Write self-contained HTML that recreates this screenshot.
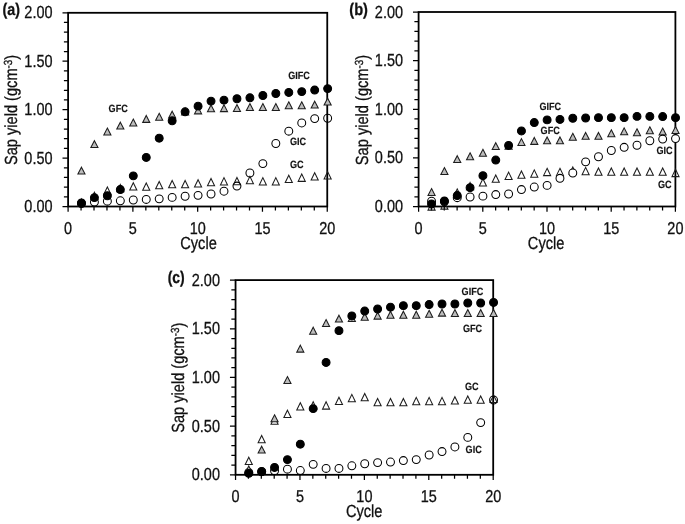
<!DOCTYPE html>
<html lang="en"><head><meta charset="utf-8"><title>Sap yield vs cycle</title>
<style>
html,body{margin:0;padding:0;background:#fff;}
body{width:685px;height:524px;overflow:hidden;}
svg{display:block;}
svg text{font-family:"Liberation Sans",Arial,sans-serif;fill:#111;stroke:#111;stroke-width:0.3px;text-rendering:geometricPrecision;}
svg text.lb{stroke-width:0.15px;}
</style></head><body>
<svg width="685" height="524" viewBox="0 0 685 524">
<rect width="685" height="524" fill="#fff"/>
<g class="chart">
<path d="M68.1 206.5h-5.6M68.1 196.81h-4.2M68.1 187.13h-4.2M68.1 177.44h-4.2M68.1 167.76h-4.2M68.1 158.07h-5.6M68.1 148.39h-4.2M68.1 138.7h-4.2M68.1 129.02h-4.2M68.1 119.34h-4.2M68.1 109.65h-5.6M68.1 99.97h-4.2M68.1 90.28h-4.2M68.1 80.59h-4.2M68.1 70.91h-4.2M68.1 61.23h-5.6M68.1 51.54h-4.2M68.1 41.85h-4.2M68.1 32.17h-4.2M68.1 22.48h-4.2M68.1 12.8h-5.6M68.1 206.5v5.3M81.06 206.5v4M94.01 206.5v4M106.97 206.5v4M119.93 206.5v4M132.89 206.5v5.3M145.84 206.5v4M158.8 206.5v4M171.76 206.5v4M184.72 206.5v4M197.67 206.5v5.3M210.63 206.5v4M223.59 206.5v4M236.55 206.5v4M249.5 206.5v4M262.46 206.5v5.3M275.42 206.5v4M288.38 206.5v4M301.33 206.5v4M314.29 206.5v4M327.25 206.5v5.3" stroke="#000" stroke-width="1.25" fill="none"/>
<rect x="68.1" y="12.8" width="259.15" height="193.7" fill="none" stroke="#000" stroke-width="1.8"/>
<text transform="translate(52.5 212.1) scale(0.826 1)" font-size="17.5" text-anchor="end" font-weight="normal">0.00</text>
<text transform="translate(52.5 163.67) scale(0.826 1)" font-size="17.5" text-anchor="end" font-weight="normal">0.50</text>
<text transform="translate(52.5 115.25) scale(0.826 1)" font-size="17.5" text-anchor="end" font-weight="normal">1.00</text>
<text transform="translate(52.5 66.83) scale(0.826 1)" font-size="17.5" text-anchor="end" font-weight="normal">1.50</text>
<text transform="translate(52.5 18.4) scale(0.826 1)" font-size="17.5" text-anchor="end" font-weight="normal">2.00</text>
<text transform="translate(68.1 233.5) scale(0.84 1)" font-size="17.2" text-anchor="middle" font-weight="normal">0</text>
<text transform="translate(132.89 233.5) scale(0.84 1)" font-size="17.2" text-anchor="middle" font-weight="normal">5</text>
<text transform="translate(197.67 233.5) scale(0.84 1)" font-size="17.2" text-anchor="middle" font-weight="normal">10</text>
<text transform="translate(262.46 233.5) scale(0.84 1)" font-size="17.2" text-anchor="middle" font-weight="normal">15</text>
<text transform="translate(327.25 233.5) scale(0.84 1)" font-size="17.2" text-anchor="middle" font-weight="normal">20</text>
<text transform="translate(198.48 248.5) scale(0.835 1)" font-size="17.5" text-anchor="middle" font-weight="normal">Cycle</text>
<text transform="translate(17.3 109.95) rotate(-90) scale(0.835 1)" font-size="17.5" text-anchor="middle">Sap yield (gcm<tspan font-size="11.73" dy="-5.3">-3</tspan><tspan dy="5.3">)</tspan></text>
<text transform="translate(2.6 15.2) scale(0.85 1)" font-size="16.8" text-anchor="start" font-weight="bold">(a)</text>
<path d="M81.46 198.93L85.01 206.23L77.91 206.23Z" fill="none" stroke="#1c1c1c" stroke-width="1.05" stroke-linejoin="miter"/>
<path d="M94.41 192.15L97.96 199.45L90.86 199.45Z" fill="none" stroke="#1c1c1c" stroke-width="1.05" stroke-linejoin="miter"/>
<path d="M107.37 187.02L110.92 194.32L103.82 194.32Z" fill="none" stroke="#1c1c1c" stroke-width="1.05" stroke-linejoin="miter"/>
<path d="M120.33 184.41L123.88 191.71L116.78 191.71Z" fill="none" stroke="#1c1c1c" stroke-width="1.05" stroke-linejoin="miter"/>
<path d="M133.29 182.76L136.84 190.06L129.74 190.06Z" fill="none" stroke="#1c1c1c" stroke-width="1.05" stroke-linejoin="miter"/>
<path d="M146.25 182.96L149.8 190.26L142.69 190.26Z" fill="none" stroke="#1c1c1c" stroke-width="1.05" stroke-linejoin="miter"/>
<path d="M159.2 181.5L162.75 188.8L155.65 188.8Z" fill="none" stroke="#1c1c1c" stroke-width="1.05" stroke-linejoin="miter"/>
<path d="M172.16 180.53L175.71 187.83L168.61 187.83Z" fill="none" stroke="#1c1c1c" stroke-width="1.05" stroke-linejoin="miter"/>
<path d="M185.12 180.53L188.67 187.83L181.57 187.83Z" fill="none" stroke="#1c1c1c" stroke-width="1.05" stroke-linejoin="miter"/>
<path d="M198.07 179.75L201.62 187.05L194.52 187.05Z" fill="none" stroke="#1c1c1c" stroke-width="1.05" stroke-linejoin="miter"/>
<path d="M211.03 178.41L214.58 185.71L207.48 185.71Z" fill="none" stroke="#1c1c1c" stroke-width="1.05" stroke-linejoin="miter"/>
<path d="M223.99 177.63L227.54 184.93L220.44 184.93Z" fill="none" stroke="#1c1c1c" stroke-width="1.05" stroke-linejoin="miter"/>
<path d="M236.95 177.44L240.5 184.74L233.4 184.74Z" fill="none" stroke="#1c1c1c" stroke-width="1.05" stroke-linejoin="miter"/>
<path d="M249.91 176.37L253.46 183.67L246.35 183.67Z" fill="none" stroke="#1c1c1c" stroke-width="1.05" stroke-linejoin="miter"/>
<path d="M262.86 177.63L266.41 184.93L259.31 184.93Z" fill="none" stroke="#1c1c1c" stroke-width="1.05" stroke-linejoin="miter"/>
<path d="M275.82 177.63L279.37 184.93L272.27 184.93Z" fill="none" stroke="#1c1c1c" stroke-width="1.05" stroke-linejoin="miter"/>
<path d="M288.78 175.21L292.33 182.51L285.23 182.51Z" fill="none" stroke="#1c1c1c" stroke-width="1.05" stroke-linejoin="miter"/>
<path d="M301.74 174.05L305.29 181.35L298.19 181.35Z" fill="none" stroke="#1c1c1c" stroke-width="1.05" stroke-linejoin="miter"/>
<path d="M314.69 172.79L318.24 180.09L311.14 180.09Z" fill="none" stroke="#1c1c1c" stroke-width="1.05" stroke-linejoin="miter"/>
<path d="M327.65 171.63L331.2 178.93L324.1 178.93Z" fill="none" stroke="#1c1c1c" stroke-width="1.05" stroke-linejoin="miter"/>
<circle cx="81.46" cy="203.5" r="3.95" fill="none" stroke="#000" stroke-width="1.05"/>
<circle cx="94.41" cy="202.04" r="3.95" fill="none" stroke="#000" stroke-width="1.05"/>
<circle cx="107.37" cy="201.17" r="3.95" fill="none" stroke="#000" stroke-width="1.05"/>
<circle cx="120.33" cy="200.79" r="3.95" fill="none" stroke="#000" stroke-width="1.05"/>
<circle cx="133.29" cy="200.01" r="3.95" fill="none" stroke="#000" stroke-width="1.05"/>
<circle cx="146.25" cy="199.43" r="3.95" fill="none" stroke="#000" stroke-width="1.05"/>
<circle cx="159.2" cy="198.85" r="3.95" fill="none" stroke="#000" stroke-width="1.05"/>
<circle cx="172.16" cy="197.4" r="3.95" fill="none" stroke="#000" stroke-width="1.05"/>
<circle cx="185.12" cy="196.24" r="3.95" fill="none" stroke="#000" stroke-width="1.05"/>
<circle cx="198.07" cy="195.36" r="3.95" fill="none" stroke="#000" stroke-width="1.05"/>
<circle cx="211.03" cy="194.01" r="3.95" fill="none" stroke="#000" stroke-width="1.05"/>
<circle cx="223.99" cy="191.2" r="3.95" fill="none" stroke="#000" stroke-width="1.05"/>
<circle cx="236.95" cy="186.07" r="3.95" fill="none" stroke="#000" stroke-width="1.05"/>
<circle cx="249.91" cy="173" r="3.95" fill="none" stroke="#000" stroke-width="1.05"/>
<circle cx="262.86" cy="163.61" r="3.95" fill="none" stroke="#000" stroke-width="1.05"/>
<circle cx="275.82" cy="143.48" r="3.95" fill="none" stroke="#000" stroke-width="1.05"/>
<circle cx="288.78" cy="131.19" r="3.95" fill="none" stroke="#000" stroke-width="1.05"/>
<circle cx="301.74" cy="122.96" r="3.95" fill="none" stroke="#000" stroke-width="1.05"/>
<circle cx="314.69" cy="118.6" r="3.95" fill="none" stroke="#000" stroke-width="1.05"/>
<circle cx="327.65" cy="118.22" r="3.95" fill="none" stroke="#000" stroke-width="1.05"/>
<path d="M81.46 167.17L85.01 174.07L77.91 174.07Z" fill="#bdbdbd" stroke="#1c1c1c" stroke-width="1.05" stroke-linejoin="miter"/>
<path d="M94.41 140.65L97.96 147.55L90.86 147.55Z" fill="#bdbdbd" stroke="#1c1c1c" stroke-width="1.05" stroke-linejoin="miter"/>
<path d="M107.37 128.08L110.92 134.98L103.82 134.98Z" fill="#bdbdbd" stroke="#1c1c1c" stroke-width="1.05" stroke-linejoin="miter"/>
<path d="M120.33 122.17L123.88 129.07L116.78 129.07Z" fill="#bdbdbd" stroke="#1c1c1c" stroke-width="1.05" stroke-linejoin="miter"/>
<path d="M133.29 119.07L136.84 125.97L129.74 125.97Z" fill="#bdbdbd" stroke="#1c1c1c" stroke-width="1.05" stroke-linejoin="miter"/>
<path d="M146.25 115.49L149.8 122.39L142.69 122.39Z" fill="#bdbdbd" stroke="#1c1c1c" stroke-width="1.05" stroke-linejoin="miter"/>
<path d="M159.2 113.36L162.75 120.26L155.65 120.26Z" fill="#bdbdbd" stroke="#1c1c1c" stroke-width="1.05" stroke-linejoin="miter"/>
<path d="M172.16 111.14L175.71 118.04L168.61 118.04Z" fill="#bdbdbd" stroke="#1c1c1c" stroke-width="1.05" stroke-linejoin="miter"/>
<path d="M185.12 108.02L188.67 114.92L181.57 114.92Z" fill="#bdbdbd" stroke="#1c1c1c" stroke-width="1.05" stroke-linejoin="miter"/>
<path d="M198.07 106.97L201.62 113.87L194.52 113.87Z" fill="#bdbdbd" stroke="#1c1c1c" stroke-width="1.05" stroke-linejoin="miter"/>
<path d="M211.03 104.93L214.58 111.83L207.48 111.83Z" fill="#bdbdbd" stroke="#1c1c1c" stroke-width="1.05" stroke-linejoin="miter"/>
<path d="M223.99 104.73L227.54 111.63L220.44 111.63Z" fill="#bdbdbd" stroke="#1c1c1c" stroke-width="1.05" stroke-linejoin="miter"/>
<path d="M236.95 104.55L240.5 111.45L233.4 111.45Z" fill="#bdbdbd" stroke="#1c1c1c" stroke-width="1.05" stroke-linejoin="miter"/>
<path d="M249.91 103.59L253.46 110.49L246.35 110.49Z" fill="#bdbdbd" stroke="#1c1c1c" stroke-width="1.05" stroke-linejoin="miter"/>
<path d="M262.86 103.59L266.41 110.49L259.31 110.49Z" fill="#bdbdbd" stroke="#1c1c1c" stroke-width="1.05" stroke-linejoin="miter"/>
<path d="M275.82 103.59L279.37 110.49L272.27 110.49Z" fill="#bdbdbd" stroke="#1c1c1c" stroke-width="1.05" stroke-linejoin="miter"/>
<path d="M288.78 101.84L292.33 108.74L285.23 108.74Z" fill="#bdbdbd" stroke="#1c1c1c" stroke-width="1.05" stroke-linejoin="miter"/>
<path d="M301.74 101.84L305.29 108.74L298.19 108.74Z" fill="#bdbdbd" stroke="#1c1c1c" stroke-width="1.05" stroke-linejoin="miter"/>
<path d="M314.69 101.17L318.24 108.07L311.14 108.07Z" fill="#bdbdbd" stroke="#1c1c1c" stroke-width="1.05" stroke-linejoin="miter"/>
<path d="M327.65 98.17L331.2 105.07L324.1 105.07Z" fill="#bdbdbd" stroke="#1c1c1c" stroke-width="1.05" stroke-linejoin="miter"/>
<circle cx="81.46" cy="202.93" r="3.95" fill="#000" stroke="#000" stroke-width="1.05"/>
<circle cx="94.41" cy="197.6" r="3.95" fill="#000" stroke="#000" stroke-width="1.05"/>
<circle cx="107.37" cy="195.76" r="3.95" fill="#000" stroke="#000" stroke-width="1.05"/>
<circle cx="120.33" cy="189.57" r="3.95" fill="#000" stroke="#000" stroke-width="1.05"/>
<circle cx="133.29" cy="175.87" r="3.95" fill="#000" stroke="#000" stroke-width="1.05"/>
<circle cx="146.25" cy="157.42" r="3.95" fill="#000" stroke="#000" stroke-width="1.05"/>
<circle cx="159.2" cy="138.16" r="3.95" fill="#000" stroke="#000" stroke-width="1.05"/>
<circle cx="172.16" cy="120.83" r="3.95" fill="#000" stroke="#000" stroke-width="1.05"/>
<circle cx="185.12" cy="111.83" r="3.95" fill="#000" stroke="#000" stroke-width="1.05"/>
<circle cx="198.07" cy="106.13" r="3.95" fill="#000" stroke="#000" stroke-width="1.05"/>
<circle cx="211.03" cy="101.1" r="3.95" fill="#000" stroke="#000" stroke-width="1.05"/>
<circle cx="223.99" cy="100.13" r="3.95" fill="#000" stroke="#000" stroke-width="1.05"/>
<circle cx="236.95" cy="98.76" r="3.95" fill="#000" stroke="#000" stroke-width="1.05"/>
<circle cx="249.91" cy="97.79" r="3.95" fill="#000" stroke="#000" stroke-width="1.05"/>
<circle cx="262.86" cy="95.48" r="3.95" fill="#000" stroke="#000" stroke-width="1.05"/>
<circle cx="275.82" cy="93.49" r="3.95" fill="#000" stroke="#000" stroke-width="1.05"/>
<circle cx="288.78" cy="92.43" r="3.95" fill="#000" stroke="#000" stroke-width="1.05"/>
<circle cx="301.74" cy="91.6" r="3.95" fill="#000" stroke="#000" stroke-width="1.05"/>
<circle cx="314.69" cy="90.05" r="3.95" fill="#000" stroke="#000" stroke-width="1.05"/>
<circle cx="327.65" cy="88.6" r="3.95" fill="#000" stroke="#000" stroke-width="1.05"/>
<text class="lb" transform="translate(288.2 79) scale(0.865 1)" font-size="10.5" text-anchor="start" font-weight="bold">GIFC</text>
<text class="lb" transform="translate(108.6 112) scale(0.865 1)" font-size="10.5" text-anchor="start" font-weight="bold">GFC</text>
<text class="lb" transform="translate(290 145.4) scale(0.865 1)" font-size="10.5" text-anchor="start" font-weight="bold">GIC</text>
<text class="lb" transform="translate(290 168.4) scale(0.865 1)" font-size="10.5" text-anchor="start" font-weight="bold">GC</text>
</g>
<g class="chart">
<path d="M418.6 206.5h-5.6M418.6 196.78h-4.2M418.6 187.05h-4.2M418.6 177.32h-4.2M418.6 167.6h-4.2M418.6 157.88h-5.6M418.6 148.15h-4.2M418.6 138.43h-4.2M418.6 128.7h-4.2M418.6 118.97h-4.2M418.6 109.25h-5.6M418.6 99.52h-4.2M418.6 89.8h-4.2M418.6 80.07h-4.2M418.6 70.35h-4.2M418.6 60.62h-5.6M418.6 50.9h-4.2M418.6 41.17h-4.2M418.6 31.45h-4.2M418.6 21.72h-4.2M418.6 12h-5.6M418.6 206.5v5.3M431.44 206.5v4M444.28 206.5v4M457.12 206.5v4M469.96 206.5v4M482.8 206.5v5.3M495.64 206.5v4M508.48 206.5v4M521.32 206.5v4M534.16 206.5v4M547 206.5v5.3M559.84 206.5v4M572.68 206.5v4M585.52 206.5v4M598.36 206.5v4M611.2 206.5v5.3M624.04 206.5v4M636.88 206.5v4M649.72 206.5v4M662.56 206.5v4M675.4 206.5v5.3" stroke="#000" stroke-width="1.25" fill="none"/>
<rect x="418.6" y="12" width="256.8" height="194.5" fill="none" stroke="#000" stroke-width="1.8"/>
<text transform="translate(403 212.1) scale(0.826 1)" font-size="17.5" text-anchor="end" font-weight="normal">0.00</text>
<text transform="translate(403 163.47) scale(0.826 1)" font-size="17.5" text-anchor="end" font-weight="normal">0.50</text>
<text transform="translate(403 114.85) scale(0.826 1)" font-size="17.5" text-anchor="end" font-weight="normal">1.00</text>
<text transform="translate(403 66.22) scale(0.826 1)" font-size="17.5" text-anchor="end" font-weight="normal">1.50</text>
<text transform="translate(403 17.6) scale(0.826 1)" font-size="17.5" text-anchor="end" font-weight="normal">2.00</text>
<text transform="translate(418.6 233.5) scale(0.84 1)" font-size="17.2" text-anchor="middle" font-weight="normal">0</text>
<text transform="translate(482.8 233.5) scale(0.84 1)" font-size="17.2" text-anchor="middle" font-weight="normal">5</text>
<text transform="translate(547 233.5) scale(0.84 1)" font-size="17.2" text-anchor="middle" font-weight="normal">10</text>
<text transform="translate(611.2 233.5) scale(0.84 1)" font-size="17.2" text-anchor="middle" font-weight="normal">15</text>
<text transform="translate(675.4 233.5) scale(0.84 1)" font-size="17.2" text-anchor="middle" font-weight="normal">20</text>
<text transform="translate(546.1 248.5) scale(0.835 1)" font-size="17.5" text-anchor="middle" font-weight="normal">Cycle</text>
<text transform="translate(367.8 110.05) rotate(-90) scale(0.835 1)" font-size="17.5" text-anchor="middle">Sap yield (gcm<tspan font-size="11.73" dy="-5.3">-3</tspan><tspan dy="5.3">)</tspan></text>
<text transform="translate(349.3 15.3) scale(0.87 1)" font-size="16.8" text-anchor="start" font-weight="bold">(b)</text>
<path d="M431.56 202.8L435.11 210.1L428.01 210.1Z" fill="none" stroke="#1c1c1c" stroke-width="1.05" stroke-linejoin="miter"/>
<path d="M444.4 201.8L447.95 209.1L440.85 209.1Z" fill="none" stroke="#1c1c1c" stroke-width="1.05" stroke-linejoin="miter"/>
<path d="M457.24 188.96L460.79 196.26L453.69 196.26Z" fill="none" stroke="#1c1c1c" stroke-width="1.05" stroke-linejoin="miter"/>
<path d="M470.08 182.44L473.63 189.74L466.53 189.74Z" fill="none" stroke="#1c1c1c" stroke-width="1.05" stroke-linejoin="miter"/>
<path d="M482.92 178.79L486.47 186.09L479.37 186.09Z" fill="none" stroke="#1c1c1c" stroke-width="1.05" stroke-linejoin="miter"/>
<path d="M495.76 174.92L499.31 182.22L492.21 182.22Z" fill="none" stroke="#1c1c1c" stroke-width="1.05" stroke-linejoin="miter"/>
<path d="M508.6 172.11L512.15 179.41L505.05 179.41Z" fill="none" stroke="#1c1c1c" stroke-width="1.05" stroke-linejoin="miter"/>
<path d="M521.44 170.95L524.99 178.25L517.89 178.25Z" fill="none" stroke="#1c1c1c" stroke-width="1.05" stroke-linejoin="miter"/>
<path d="M534.28 169.89L537.83 177.19L530.73 177.19Z" fill="none" stroke="#1c1c1c" stroke-width="1.05" stroke-linejoin="miter"/>
<path d="M547.12 168.34L550.67 175.64L543.57 175.64Z" fill="none" stroke="#1c1c1c" stroke-width="1.05" stroke-linejoin="miter"/>
<path d="M559.96 168.34L563.51 175.64L556.41 175.64Z" fill="none" stroke="#1c1c1c" stroke-width="1.05" stroke-linejoin="miter"/>
<path d="M572.8 167.05L576.35 174.35L569.25 174.35Z" fill="none" stroke="#1c1c1c" stroke-width="1.05" stroke-linejoin="miter"/>
<path d="M585.64 167.37L589.19 174.67L582.09 174.67Z" fill="none" stroke="#1c1c1c" stroke-width="1.05" stroke-linejoin="miter"/>
<path d="M598.48 167.95L602.03 175.25L594.93 175.25Z" fill="none" stroke="#1c1c1c" stroke-width="1.05" stroke-linejoin="miter"/>
<path d="M611.32 167.95L614.87 175.25L607.77 175.25Z" fill="none" stroke="#1c1c1c" stroke-width="1.05" stroke-linejoin="miter"/>
<path d="M624.16 167.95L627.71 175.25L620.61 175.25Z" fill="none" stroke="#1c1c1c" stroke-width="1.05" stroke-linejoin="miter"/>
<path d="M637 167.95L640.55 175.25L633.45 175.25Z" fill="none" stroke="#1c1c1c" stroke-width="1.05" stroke-linejoin="miter"/>
<path d="M649.84 167.95L653.39 175.25L646.29 175.25Z" fill="none" stroke="#1c1c1c" stroke-width="1.05" stroke-linejoin="miter"/>
<path d="M662.68 167.95L666.23 175.25L659.13 175.25Z" fill="none" stroke="#1c1c1c" stroke-width="1.05" stroke-linejoin="miter"/>
<path d="M675.52 169.31L679.07 176.61L671.97 176.61Z" fill="none" stroke="#1c1c1c" stroke-width="1.05" stroke-linejoin="miter"/>
<path d="M431.56 188.58L435.11 195.48L428.01 195.48Z" fill="#bdbdbd" stroke="#1c1c1c" stroke-width="1.05" stroke-linejoin="miter"/>
<path d="M444.4 167.57L447.95 174.47L440.85 174.47Z" fill="#bdbdbd" stroke="#1c1c1c" stroke-width="1.05" stroke-linejoin="miter"/>
<path d="M457.24 155.66L460.79 162.56L453.69 162.56Z" fill="#bdbdbd" stroke="#1c1c1c" stroke-width="1.05" stroke-linejoin="miter"/>
<path d="M470.08 152.86L473.63 159.76L466.53 159.76Z" fill="#bdbdbd" stroke="#1c1c1c" stroke-width="1.05" stroke-linejoin="miter"/>
<path d="M482.92 149.28L486.47 156.18L479.37 156.18Z" fill="#bdbdbd" stroke="#1c1c1c" stroke-width="1.05" stroke-linejoin="miter"/>
<path d="M495.76 142.69L499.31 149.59L492.21 149.59Z" fill="#bdbdbd" stroke="#1c1c1c" stroke-width="1.05" stroke-linejoin="miter"/>
<path d="M508.6 142.32L512.15 149.22L505.05 149.22Z" fill="#bdbdbd" stroke="#1c1c1c" stroke-width="1.05" stroke-linejoin="miter"/>
<path d="M521.44 138.63L524.99 145.53L517.89 145.53Z" fill="#bdbdbd" stroke="#1c1c1c" stroke-width="1.05" stroke-linejoin="miter"/>
<path d="M534.28 137.47L537.83 144.37L530.73 144.37Z" fill="#bdbdbd" stroke="#1c1c1c" stroke-width="1.05" stroke-linejoin="miter"/>
<path d="M547.12 136.89L550.67 143.79L543.57 143.79Z" fill="#bdbdbd" stroke="#1c1c1c" stroke-width="1.05" stroke-linejoin="miter"/>
<path d="M559.96 136.89L563.51 143.79L556.41 143.79Z" fill="#bdbdbd" stroke="#1c1c1c" stroke-width="1.05" stroke-linejoin="miter"/>
<path d="M572.8 133.3L576.35 140.2L569.25 140.2Z" fill="#bdbdbd" stroke="#1c1c1c" stroke-width="1.05" stroke-linejoin="miter"/>
<path d="M585.64 132.43L589.19 139.33L582.09 139.33Z" fill="#bdbdbd" stroke="#1c1c1c" stroke-width="1.05" stroke-linejoin="miter"/>
<path d="M598.48 132.43L602.03 139.33L594.93 139.33Z" fill="#bdbdbd" stroke="#1c1c1c" stroke-width="1.05" stroke-linejoin="miter"/>
<path d="M611.32 129.82L614.87 136.72L607.77 136.72Z" fill="#bdbdbd" stroke="#1c1c1c" stroke-width="1.05" stroke-linejoin="miter"/>
<path d="M624.16 127.88L627.71 134.78L620.61 134.78Z" fill="#bdbdbd" stroke="#1c1c1c" stroke-width="1.05" stroke-linejoin="miter"/>
<path d="M637 128.85L640.55 135.75L633.45 135.75Z" fill="#bdbdbd" stroke="#1c1c1c" stroke-width="1.05" stroke-linejoin="miter"/>
<path d="M649.84 126.82L653.39 133.72L646.29 133.72Z" fill="#bdbdbd" stroke="#1c1c1c" stroke-width="1.05" stroke-linejoin="miter"/>
<path d="M662.68 128.08L666.23 134.98L659.13 134.98Z" fill="#bdbdbd" stroke="#1c1c1c" stroke-width="1.05" stroke-linejoin="miter"/>
<path d="M675.52 126.53L679.07 133.43L671.97 133.43Z" fill="#bdbdbd" stroke="#1c1c1c" stroke-width="1.05" stroke-linejoin="miter"/>
<circle cx="431.56" cy="201.28" r="3.95" fill="#fff" stroke="#000" stroke-width="1.05"/>
<circle cx="444.4" cy="201.56" r="3.95" fill="#fff" stroke="#000" stroke-width="1.05"/>
<circle cx="457.24" cy="197.69" r="3.95" fill="#fff" stroke="#000" stroke-width="1.05"/>
<circle cx="470.08" cy="197.01" r="3.95" fill="#fff" stroke="#000" stroke-width="1.05"/>
<circle cx="482.92" cy="196.14" r="3.95" fill="#fff" stroke="#000" stroke-width="1.05"/>
<circle cx="495.76" cy="194.59" r="3.95" fill="#fff" stroke="#000" stroke-width="1.05"/>
<circle cx="508.6" cy="194.01" r="3.95" fill="#fff" stroke="#000" stroke-width="1.05"/>
<circle cx="521.44" cy="189.56" r="3.95" fill="#fff" stroke="#000" stroke-width="1.05"/>
<circle cx="534.28" cy="187.04" r="3.95" fill="#fff" stroke="#000" stroke-width="1.05"/>
<circle cx="547.12" cy="185.39" r="3.95" fill="#fff" stroke="#000" stroke-width="1.05"/>
<circle cx="559.96" cy="178.33" r="3.95" fill="#fff" stroke="#000" stroke-width="1.05"/>
<circle cx="572.8" cy="173.01" r="3.95" fill="#fff" stroke="#000" stroke-width="1.05"/>
<circle cx="585.64" cy="161.87" r="3.95" fill="#fff" stroke="#000" stroke-width="1.05"/>
<circle cx="598.48" cy="156.74" r="3.95" fill="#fff" stroke="#000" stroke-width="1.05"/>
<circle cx="611.32" cy="150.51" r="3.95" fill="#fff" stroke="#000" stroke-width="1.05"/>
<circle cx="624.16" cy="147.31" r="3.95" fill="#fff" stroke="#000" stroke-width="1.05"/>
<circle cx="637" cy="145.28" r="3.95" fill="#fff" stroke="#000" stroke-width="1.05"/>
<circle cx="649.84" cy="140.73" r="3.95" fill="#fff" stroke="#000" stroke-width="1.05"/>
<circle cx="662.68" cy="139.08" r="3.95" fill="#fff" stroke="#000" stroke-width="1.05"/>
<circle cx="675.52" cy="138.56" r="3.95" fill="#fff" stroke="#000" stroke-width="1.05"/>
<circle cx="431.56" cy="204" r="3.95" fill="#000" stroke="#000" stroke-width="1.05"/>
<circle cx="444.4" cy="200.98" r="3.95" fill="#000" stroke="#000" stroke-width="1.05"/>
<circle cx="457.24" cy="195.56" r="3.95" fill="#000" stroke="#000" stroke-width="1.05"/>
<circle cx="470.08" cy="187.64" r="3.95" fill="#000" stroke="#000" stroke-width="1.05"/>
<circle cx="482.92" cy="175.63" r="3.95" fill="#000" stroke="#000" stroke-width="1.05"/>
<circle cx="495.76" cy="160.04" r="3.95" fill="#000" stroke="#000" stroke-width="1.05"/>
<circle cx="508.6" cy="145.42" r="3.95" fill="#000" stroke="#000" stroke-width="1.05"/>
<circle cx="521.44" cy="130.92" r="3.95" fill="#000" stroke="#000" stroke-width="1.05"/>
<circle cx="534.28" cy="122.58" r="3.95" fill="#000" stroke="#000" stroke-width="1.05"/>
<circle cx="547.12" cy="119.88" r="3.95" fill="#000" stroke="#000" stroke-width="1.05"/>
<circle cx="559.96" cy="119.4" r="3.95" fill="#000" stroke="#000" stroke-width="1.05"/>
<circle cx="572.8" cy="118.27" r="3.95" fill="#000" stroke="#000" stroke-width="1.05"/>
<circle cx="585.64" cy="118.02" r="3.95" fill="#000" stroke="#000" stroke-width="1.05"/>
<circle cx="598.48" cy="117.63" r="3.95" fill="#000" stroke="#000" stroke-width="1.05"/>
<circle cx="611.32" cy="117.63" r="3.95" fill="#000" stroke="#000" stroke-width="1.05"/>
<circle cx="624.16" cy="117.63" r="3.95" fill="#000" stroke="#000" stroke-width="1.05"/>
<circle cx="637" cy="116.38" r="3.95" fill="#000" stroke="#000" stroke-width="1.05"/>
<circle cx="649.84" cy="116.38" r="3.95" fill="#000" stroke="#000" stroke-width="1.05"/>
<circle cx="662.68" cy="116.58" r="3.95" fill="#000" stroke="#000" stroke-width="1.05"/>
<circle cx="675.52" cy="117.63" r="3.95" fill="#000" stroke="#000" stroke-width="1.05"/>
<text class="lb" transform="translate(539.4 110) scale(0.865 1)" font-size="10.5" text-anchor="start" font-weight="bold">GIFC</text>
<text class="lb" transform="translate(540.6 133.6) scale(0.865 1)" font-size="10.5" text-anchor="start" font-weight="bold">GFC</text>
<text class="lb" transform="translate(656.4 154) scale(0.865 1)" font-size="10.5" text-anchor="start" font-weight="bold">GIC</text>
<text class="lb" transform="translate(658 188) scale(0.865 1)" font-size="10.5" text-anchor="start" font-weight="bold">GC</text>
</g>
<g class="chart">
<path d="M235.55 474.8h-5.6M235.55 465.06h-4.2M235.55 455.33h-4.2M235.55 445.6h-4.2M235.55 435.86h-4.2M235.55 426.12h-5.6M235.55 416.39h-4.2M235.55 406.66h-4.2M235.55 396.92h-4.2M235.55 387.19h-4.2M235.55 377.45h-5.6M235.55 367.72h-4.2M235.55 357.98h-4.2M235.55 348.25h-4.2M235.55 338.51h-4.2M235.55 328.78h-5.6M235.55 319.04h-4.2M235.55 309.31h-4.2M235.55 299.57h-4.2M235.55 289.84h-4.2M235.55 280.1h-5.6M235.55 474.8v5.3M248.43 474.8v4M261.31 474.8v4M274.2 474.8v4M287.08 474.8v4M299.96 474.8v5.3M312.85 474.8v4M325.73 474.8v4M338.61 474.8v4M351.49 474.8v4M364.38 474.8v5.3M377.26 474.8v4M390.14 474.8v4M403.02 474.8v4M415.9 474.8v4M428.79 474.8v5.3M441.67 474.8v4M454.55 474.8v4M467.43 474.8v4M480.32 474.8v4M493.2 474.8v5.3" stroke="#000" stroke-width="1.25" fill="none"/>
<rect x="235.55" y="280.1" width="257.65" height="194.7" fill="none" stroke="#000" stroke-width="1.8"/>
<text transform="translate(219.95 480.4) scale(0.826 1)" font-size="17.5" text-anchor="end" font-weight="normal">0.00</text>
<text transform="translate(219.95 431.73) scale(0.826 1)" font-size="17.5" text-anchor="end" font-weight="normal">0.50</text>
<text transform="translate(219.95 383.05) scale(0.826 1)" font-size="17.5" text-anchor="end" font-weight="normal">1.00</text>
<text transform="translate(219.95 334.38) scale(0.826 1)" font-size="17.5" text-anchor="end" font-weight="normal">1.50</text>
<text transform="translate(219.95 285.7) scale(0.826 1)" font-size="17.5" text-anchor="end" font-weight="normal">2.00</text>
<text transform="translate(235.55 501.8) scale(0.84 1)" font-size="17.2" text-anchor="middle" font-weight="normal">0</text>
<text transform="translate(299.96 501.8) scale(0.84 1)" font-size="17.2" text-anchor="middle" font-weight="normal">5</text>
<text transform="translate(364.38 501.8) scale(0.84 1)" font-size="17.2" text-anchor="middle" font-weight="normal">10</text>
<text transform="translate(428.79 501.8) scale(0.84 1)" font-size="17.2" text-anchor="middle" font-weight="normal">15</text>
<text transform="translate(493.2 501.8) scale(0.84 1)" font-size="17.2" text-anchor="middle" font-weight="normal">20</text>
<text transform="translate(364.18 516.8) scale(0.835 1)" font-size="17.5" text-anchor="middle" font-weight="normal">Cycle</text>
<text transform="translate(183.95 377.75) rotate(-90) scale(0.835 1)" font-size="17.5" text-anchor="middle">Sap yield (gcm<tspan font-size="11.73" dy="-5.3">-3</tspan><tspan dy="5.3">)</tspan></text>
<text transform="translate(167.7 283.2) scale(0.83 1)" font-size="16.8" text-anchor="start" font-weight="bold">(c)</text>
<path d="M248.78 457.17L252.33 464.47L245.23 464.47Z" fill="none" stroke="#1c1c1c" stroke-width="1.05" stroke-linejoin="miter"/>
<path d="M261.67 435.42L265.22 442.72L258.12 442.72Z" fill="none" stroke="#1c1c1c" stroke-width="1.05" stroke-linejoin="miter"/>
<path d="M274.55 417L278.1 424.3L271 424.3Z" fill="none" stroke="#1c1c1c" stroke-width="1.05" stroke-linejoin="miter"/>
<path d="M287.43 410.22L290.98 417.52L283.88 417.52Z" fill="none" stroke="#1c1c1c" stroke-width="1.05" stroke-linejoin="miter"/>
<path d="M300.31 402.78L303.86 410.08L296.76 410.08Z" fill="none" stroke="#1c1c1c" stroke-width="1.05" stroke-linejoin="miter"/>
<path d="M313.19 401.81L316.75 409.11L309.64 409.11Z" fill="none" stroke="#1c1c1c" stroke-width="1.05" stroke-linejoin="miter"/>
<path d="M326.08 401.81L329.63 409.11L322.53 409.11Z" fill="none" stroke="#1c1c1c" stroke-width="1.05" stroke-linejoin="miter"/>
<path d="M338.96 397.18L342.51 404.48L335.41 404.48Z" fill="none" stroke="#1c1c1c" stroke-width="1.05" stroke-linejoin="miter"/>
<path d="M351.84 394.38L355.39 401.68L348.29 401.68Z" fill="none" stroke="#1c1c1c" stroke-width="1.05" stroke-linejoin="miter"/>
<path d="M364.73 393.41L368.28 400.71L361.18 400.71Z" fill="none" stroke="#1c1c1c" stroke-width="1.05" stroke-linejoin="miter"/>
<path d="M377.61 398.43L381.16 405.73L374.06 405.73Z" fill="none" stroke="#1c1c1c" stroke-width="1.05" stroke-linejoin="miter"/>
<path d="M390.49 398.43L394.04 405.73L386.94 405.73Z" fill="none" stroke="#1c1c1c" stroke-width="1.05" stroke-linejoin="miter"/>
<path d="M403.37 398.43L406.92 405.73L399.82 405.73Z" fill="none" stroke="#1c1c1c" stroke-width="1.05" stroke-linejoin="miter"/>
<path d="M416.25 397.37L419.81 404.67L412.7 404.67Z" fill="none" stroke="#1c1c1c" stroke-width="1.05" stroke-linejoin="miter"/>
<path d="M429.14 397.37L432.69 404.67L425.59 404.67Z" fill="none" stroke="#1c1c1c" stroke-width="1.05" stroke-linejoin="miter"/>
<path d="M442.02 397.37L445.57 404.67L438.47 404.67Z" fill="none" stroke="#1c1c1c" stroke-width="1.05" stroke-linejoin="miter"/>
<path d="M454.9 396.79L458.45 404.09L451.35 404.09Z" fill="none" stroke="#1c1c1c" stroke-width="1.05" stroke-linejoin="miter"/>
<path d="M467.78 396.02L471.33 403.32L464.23 403.32Z" fill="none" stroke="#1c1c1c" stroke-width="1.05" stroke-linejoin="miter"/>
<path d="M480.67 396.02L484.22 403.32L477.12 403.32Z" fill="none" stroke="#1c1c1c" stroke-width="1.05" stroke-linejoin="miter"/>
<path d="M493.55 395.1L497.1 402.4L490 402.4Z" fill="none" stroke="#1c1c1c" stroke-width="1.05" stroke-linejoin="miter"/>
<circle cx="248.78" cy="472.47" r="3.95" fill="none" stroke="#000" stroke-width="1.05"/>
<circle cx="261.67" cy="471.5" r="3.95" fill="none" stroke="#000" stroke-width="1.05"/>
<circle cx="274.55" cy="470.83" r="3.95" fill="none" stroke="#000" stroke-width="1.05"/>
<circle cx="287.43" cy="469.19" r="3.95" fill="none" stroke="#000" stroke-width="1.05"/>
<circle cx="300.31" cy="470.54" r="3.95" fill="none" stroke="#000" stroke-width="1.05"/>
<circle cx="313.19" cy="464.35" r="3.95" fill="none" stroke="#000" stroke-width="1.05"/>
<circle cx="326.08" cy="468.41" r="3.95" fill="none" stroke="#000" stroke-width="1.05"/>
<circle cx="338.96" cy="468.41" r="3.95" fill="none" stroke="#000" stroke-width="1.05"/>
<circle cx="351.84" cy="465.8" r="3.95" fill="none" stroke="#000" stroke-width="1.05"/>
<circle cx="364.73" cy="463.77" r="3.95" fill="none" stroke="#000" stroke-width="1.05"/>
<circle cx="377.61" cy="462.61" r="3.95" fill="none" stroke="#000" stroke-width="1.05"/>
<circle cx="390.49" cy="462.04" r="3.95" fill="none" stroke="#000" stroke-width="1.05"/>
<circle cx="403.37" cy="460.59" r="3.95" fill="none" stroke="#000" stroke-width="1.05"/>
<circle cx="416.25" cy="459.62" r="3.95" fill="none" stroke="#000" stroke-width="1.05"/>
<circle cx="429.14" cy="454.97" r="3.95" fill="none" stroke="#000" stroke-width="1.05"/>
<circle cx="442.02" cy="451.59" r="3.95" fill="none" stroke="#000" stroke-width="1.05"/>
<circle cx="454.9" cy="446.95" r="3.95" fill="none" stroke="#000" stroke-width="1.05"/>
<circle cx="467.78" cy="437.39" r="3.95" fill="none" stroke="#000" stroke-width="1.05"/>
<circle cx="480.67" cy="422.61" r="3.95" fill="none" stroke="#000" stroke-width="1.05"/>
<circle cx="493.55" cy="400" r="3.95" fill="none" stroke="#000" stroke-width="1.05"/>
<path d="M248.78 465.96L252.33 472.86L245.23 472.86Z" fill="#bdbdbd" stroke="#1c1c1c" stroke-width="1.05" stroke-linejoin="miter"/>
<path d="M261.67 446.14L265.22 453.04L258.12 453.04Z" fill="#bdbdbd" stroke="#1c1c1c" stroke-width="1.05" stroke-linejoin="miter"/>
<path d="M274.55 414.8L278.1 421.7L271 421.7Z" fill="#bdbdbd" stroke="#1c1c1c" stroke-width="1.05" stroke-linejoin="miter"/>
<path d="M287.43 376.61L290.98 383.51L283.88 383.51Z" fill="#bdbdbd" stroke="#1c1c1c" stroke-width="1.05" stroke-linejoin="miter"/>
<path d="M300.31 345.21L303.86 352.11L296.76 352.11Z" fill="#bdbdbd" stroke="#1c1c1c" stroke-width="1.05" stroke-linejoin="miter"/>
<path d="M313.19 327.25L316.75 334.15L309.64 334.15Z" fill="#bdbdbd" stroke="#1c1c1c" stroke-width="1.05" stroke-linejoin="miter"/>
<path d="M326.08 319.61L329.63 326.51L322.53 326.51Z" fill="#bdbdbd" stroke="#1c1c1c" stroke-width="1.05" stroke-linejoin="miter"/>
<path d="M338.96 315.17L342.51 322.07L335.41 322.07Z" fill="#bdbdbd" stroke="#1c1c1c" stroke-width="1.05" stroke-linejoin="miter"/>
<path d="M351.84 314.59L355.39 321.49L348.29 321.49Z" fill="#bdbdbd" stroke="#1c1c1c" stroke-width="1.05" stroke-linejoin="miter"/>
<path d="M364.73 313.27L368.28 320.17L361.18 320.17Z" fill="#bdbdbd" stroke="#1c1c1c" stroke-width="1.05" stroke-linejoin="miter"/>
<path d="M377.61 312.21L381.16 319.11L374.06 319.11Z" fill="#bdbdbd" stroke="#1c1c1c" stroke-width="1.05" stroke-linejoin="miter"/>
<path d="M390.49 311.25L394.04 318.15L386.94 318.15Z" fill="#bdbdbd" stroke="#1c1c1c" stroke-width="1.05" stroke-linejoin="miter"/>
<path d="M403.37 311.25L406.92 318.15L399.82 318.15Z" fill="#bdbdbd" stroke="#1c1c1c" stroke-width="1.05" stroke-linejoin="miter"/>
<path d="M416.25 311.25L419.81 318.15L412.7 318.15Z" fill="#bdbdbd" stroke="#1c1c1c" stroke-width="1.05" stroke-linejoin="miter"/>
<path d="M429.14 310.28L432.69 317.18L425.59 317.18Z" fill="#bdbdbd" stroke="#1c1c1c" stroke-width="1.05" stroke-linejoin="miter"/>
<path d="M442.02 309.22L445.57 316.12L438.47 316.12Z" fill="#bdbdbd" stroke="#1c1c1c" stroke-width="1.05" stroke-linejoin="miter"/>
<path d="M454.9 309.57L458.45 316.47L451.35 316.47Z" fill="#bdbdbd" stroke="#1c1c1c" stroke-width="1.05" stroke-linejoin="miter"/>
<path d="M467.78 309.57L471.33 316.47L464.23 316.47Z" fill="#bdbdbd" stroke="#1c1c1c" stroke-width="1.05" stroke-linejoin="miter"/>
<path d="M480.67 309.57L484.22 316.47L477.12 316.47Z" fill="#bdbdbd" stroke="#1c1c1c" stroke-width="1.05" stroke-linejoin="miter"/>
<path d="M493.55 309.57L497.1 316.47L490 316.47Z" fill="#bdbdbd" stroke="#1c1c1c" stroke-width="1.05" stroke-linejoin="miter"/>
<circle cx="248.78" cy="473.36" r="3.95" fill="#000" stroke="#000" stroke-width="1.05"/>
<circle cx="261.67" cy="471.7" r="3.95" fill="#000" stroke="#000" stroke-width="1.05"/>
<circle cx="274.55" cy="467.44" r="3.95" fill="#000" stroke="#000" stroke-width="1.05"/>
<circle cx="287.43" cy="459.62" r="3.95" fill="#000" stroke="#000" stroke-width="1.05"/>
<circle cx="300.31" cy="444.16" r="3.95" fill="#000" stroke="#000" stroke-width="1.05"/>
<circle cx="313.19" cy="408.6" r="3.95" fill="#000" stroke="#000" stroke-width="1.05"/>
<circle cx="326.08" cy="362.43" r="3.95" fill="#000" stroke="#000" stroke-width="1.05"/>
<circle cx="338.96" cy="330.65" r="3.95" fill="#000" stroke="#000" stroke-width="1.05"/>
<circle cx="351.84" cy="315.96" r="3.95" fill="#000" stroke="#000" stroke-width="1.05"/>
<circle cx="364.73" cy="311.04" r="3.95" fill="#000" stroke="#000" stroke-width="1.05"/>
<circle cx="377.61" cy="309.01" r="3.95" fill="#000" stroke="#000" stroke-width="1.05"/>
<circle cx="390.49" cy="307.17" r="3.95" fill="#000" stroke="#000" stroke-width="1.05"/>
<circle cx="403.37" cy="305.63" r="3.95" fill="#000" stroke="#000" stroke-width="1.05"/>
<circle cx="416.25" cy="305.63" r="3.95" fill="#000" stroke="#000" stroke-width="1.05"/>
<circle cx="429.14" cy="304.56" r="3.95" fill="#000" stroke="#000" stroke-width="1.05"/>
<circle cx="442.02" cy="303.98" r="3.95" fill="#000" stroke="#000" stroke-width="1.05"/>
<circle cx="454.9" cy="303.98" r="3.95" fill="#000" stroke="#000" stroke-width="1.05"/>
<circle cx="467.78" cy="303.02" r="3.95" fill="#000" stroke="#000" stroke-width="1.05"/>
<circle cx="480.67" cy="303.02" r="3.95" fill="#000" stroke="#000" stroke-width="1.05"/>
<circle cx="493.55" cy="302.44" r="3.95" fill="#000" stroke="#000" stroke-width="1.05"/>
<text class="lb" transform="translate(461.6 295) scale(0.865 1)" font-size="10.5" text-anchor="start" font-weight="bold">GIFC</text>
<text class="lb" transform="translate(463 332) scale(0.865 1)" font-size="10.5" text-anchor="start" font-weight="bold">GFC</text>
<text class="lb" transform="translate(465 390.4) scale(0.865 1)" font-size="10.5" text-anchor="start" font-weight="bold">GC</text>
<text class="lb" transform="translate(465.6 453.4) scale(0.865 1)" font-size="10.5" text-anchor="start" font-weight="bold">GIC</text>
</g>
</svg>
</body></html>
